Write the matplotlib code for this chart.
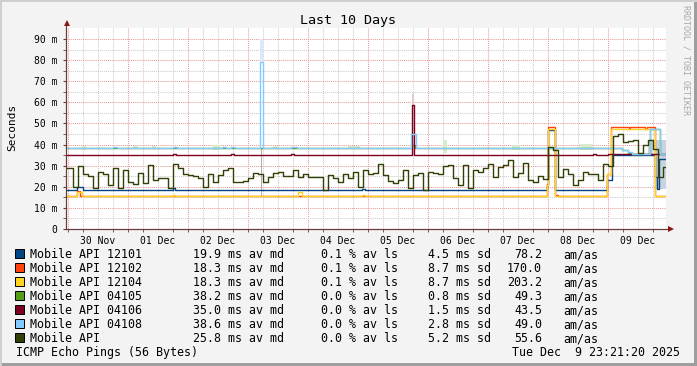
import numpy as np
import matplotlib
matplotlib.use('Agg')
import matplotlib.pyplot as plt
from matplotlib.lines import Line2D
from matplotlib.patches import Rectangle

# ---- data (time in days since 30 Nov 00:00, values in ms) ----
T0, T1 = -0.028, 9.972
day_labels = ["30 Nov", "01 Dec", "02 Dec", "03 Dec", "04 Dec",
              "05 Dec", "06 Dec", "07 Dec", "08 Dec", "09 Dec"]

names = ["Mobile API 12101", "Mobile API 12102", "Mobile API 12104", "Mobile API 04105",
         "Mobile API 04106", "Mobile API 04108", "Mobile API"]
colors = ["#004586", "#ff420e", "#ffd320", "#579d1c", "#7e0021", "#83caff", "#314004"]
med = ["19.9", "18.3", "18.3", "38.2", "35.0", "38.6", "25.8"]
loss = ["0.1", "0.1", "0.1", "0.0", "0.0", "0.0", "0.0"]
sdev = ["4.5", "8.7", "8.7", "0.8", "1.5", "2.8", "5.2"]
amas = ["78.2", "170.0", "203.2", "49.3", "43.5", "49.0", "55.6"]

# step series given as change points
t_12101 = [T0, 0.15, 0.25, 1.75, 1.79, 4.90, 4.96, 7.983, 8.011, 8.122, 8.983, 9.066, 9.79, 9.82, 9.86]
v_12101 = [18.6, 20.0, 18.6, 19.2, 18.6, 19.0, 18.6, 21.0, 47.0, 18.6, 23.0, 35.1, 24.5, 19.0, 33.0]

t_12102 = [T0, 0.15, 0.20, 7.983, 8.011, 8.122, 8.18, 8.983, 9.05, 9.35, 9.38, 9.62, 9.66, 9.79]
v_12102 = [15.5, 17.8, 15.5, 21.4, 48.2, 16.2, 15.5, 26.0, 48.2, 47.6, 48.2, 47.6, 48.2, 15.5]

t_12104 = [T0, 0.16, 0.24, 1.75, 1.79, 3.84, 3.90, 4.90, 4.96, 7.983, 8.011, 8.122, 8.983, 9.05, 9.79]
v_12104 = [15.5, 17.3, 15.5, 16.2, 15.5, 17.3, 15.5, 16.2, 15.5, 21.0, 47.6, 15.5, 26.0, 47.6, 15.5]

t_04105 = [T0, 5.74, 5.79, 9.233, 9.344, 9.40, 9.705, 9.872]
v_04105 = [38.3, 39.9, 38.3, 37.3, 36.2, 35.5, 47.3, 35.4]

t_04106 = [T0, 1.75, 1.80, 2.73, 2.78, 3.73, 3.78, 5.733, 5.775, 8.76, 8.80, 9.0]
v_04106 = [35.1, 35.5, 35.1, 35.6, 35.1, 35.6, 35.1, 58.5, 35.1, 35.6, 35.1, 35.4]

t_04108 = [T0, 0.75, 0.82, 1.75, 1.82, 2.57, 2.64, 2.73, 2.79, 3.21, 3.25, 3.73, 3.82,
           5.73, 5.80, 9.233, 9.344, 9.40, 9.705, 9.872]
v_04108 = [38.5, 39.0, 38.5, 39.0, 38.5, 39.0, 38.5, 39.0, 38.5, 79.3, 38.5, 39.0, 38.5,
           45.1, 38.5, 37.5, 36.4, 35.7, 47.5, 35.6]

# Mobile API median, one value per 2 hours
mobile = [28.7, 20.0, 30.0, 26.0, 25.0, 19.2, 27.0, 26.0, 21.0, 28.7,
          19.2, 28.0, 22.4, 21.5, 26.3, 21.6, 30.5, 23.2, 24.0, 24.0,
          19.2, 31.0, 29.0, 26.0, 25.6, 25.0, 24.0, 20.0, 26.0, 22.4,
          25.6, 27.9, 29.0, 22.4, 22.4, 22.5, 24.0, 26.3, 26.0, 22.4,
          24.5, 26.3, 26.8, 25.0, 25.0, 27.9, 24.5, 26.0, 24.8, 24.5,
          24.8, 18.4, 25.6, 24.0, 22.4, 26.0, 24.0, 27.1, 20.0, 27.9,
          26.0, 26.5, 31.0, 25.6, 22.9, 22.0, 23.0, 28.0, 19.5, 25.6,
          26.5, 18.4, 27.1, 26.3, 26.0, 30.0, 30.5, 24.0, 21.0, 30.3,
          19.2, 27.9, 27.0, 28.7, 31.0, 24.5, 29.5, 30.3, 32.7, 24.8,
          26.5, 31.1, 23.2, 22.4, 25.0, 23.5, 39.0, 37.5, 24.5, 28.5,
          26.0, 21.0, 23.0, 27.0, 26.0, 26.0, 23.0, 30.9, 30.0, 44.0,
          45.0, 41.0, 41.5, 42.0, 36.0, 40.0, 42.0, 38.0, 24.5, 29.5]
step_hours = 2

# smoke patches: start, end, low, high
smoke_green_t0 = [0.24, 1.09, 1.40, 2.43, 3.43, 4.67, 6.26, 7.40, 8.54]
smoke_green_t1 = [0.31, 1.18, 1.48, 2.54, 3.51, 4.87, 6.32, 7.54, 8.76]
smoke_green_lo = [37.5, 37.8, 37.8, 37.6, 37.8, 37.8, 36.0, 37.6, 37.2]
smoke_green_hi = [39.5, 39.2, 39.3, 39.6, 39.3, 39.4, 42.0, 39.6, 40.2]

smoke_other_t0 = [3.21, 3.215, 5.735, 9.68, 9.81]
smoke_other_t1 = [3.25, 3.245, 5.775, 9.76, 9.97]
smoke_other_lo = [79.3, 15.8, 58.5, 35.0, 19.0]
smoke_other_hi = [90.0, 38.5, 64.0, 42.0, 42.0]
smoke_other_c = ["#d8ebfa", "#b8ae9e", "#e8c8d0", "#d0d4dc", "#c8d3e0"]

# ---- figure ----
W, H = 697, 366
def fx(px):
    return px / W
def fy(py):
    return 1 - py / H

mono = 'DejaVu Sans Mono'
fig = plt.figure(figsize=(W / 100, H / 100), dpi=100)
fig.patch.set_facecolor('#f3f3f3')
ax = fig.add_axes([fx(66), fy(229), 600 / W, 201 / H])
ax.set_facecolor('white')
ax.set_xlim(T0, T1)
ax.set_ylim(0, 95.2)

# grid
for d in np.arange(0, 10, 0.25):
    major = float(d).is_integer()
    ax.axvline(d, color='#e89a9a' if major else '#cccccc', lw=0.75,
               ls=(0, (1, 1)), zorder=0)
for v in range(5, 95, 5):
    ax.axhline(v, color='#e89a9a' if v % 10 == 0 else '#cccccc', lw=0.75,
               ls=(0, (1, 1)), zorder=0)

# smoke
ax.bar(smoke_green_t0, np.subtract(smoke_green_hi, smoke_green_lo),
       width=np.subtract(smoke_green_t1, smoke_green_t0), bottom=smoke_green_lo,
       align='edge', color='#d8ebcc', lw=0, zorder=1)
ax.bar(smoke_other_t0, np.subtract(smoke_other_hi, smoke_other_lo),
       width=np.subtract(smoke_other_t1, smoke_other_t0), bottom=smoke_other_lo,
       align='edge', color=smoke_other_c, lw=0, zorder=1)

def stairs(t, v, c):
    t = list(t) + [T1]
    v = list(v) + [v[-1]]
    ax.step(t, v, where='post', color=c, lw=1.0, zorder=2)

series = [(t_12101, v_12101), (t_12102, v_12102), (t_12104, v_12104),
          (t_04105, v_04105), (t_04106, v_04106), (t_04108, v_04108)]
for (t, v), c in zip(series, colors[:6]):
    stairs(t, v, c)

t_mobile = np.arange(len(mobile)) * step_hours / 24.0
t_mobile[0] = T0
stairs(t_mobile, mobile, colors[6])

# axes and ticks
for s in ['top', 'right']:
    ax.spines[s].set_visible(False)
for s in ['left', 'bottom']:
    ax.spines[s].set_color('#6a3a3a')
    ax.spines[s].set_linewidth(0.8)
ax.set_xticks(np.arange(10) + 0.5)
ax.set_xticklabels(day_labels, fontsize=7, family=mono)
ax.set_xticks(np.arange(0, 10, 0.25), minor=True)
ax.set_yticks(range(0, 91, 10))
ax.set_yticklabels(["0"] + [f"{v} m" for v in range(10, 91, 10)], fontsize=7, family=mono)
ax.set_yticks(range(5, 95, 10), minor=True)
ax.tick_params(axis='x', which='major', length=0, pad=5)
ax.tick_params(axis='y', which='major', length=2, pad=4, color='#6a3a3a')
ax.tick_params(which='minor', length=2, color='#6a3a3a')

# arrows extending axes
fig.add_artist(Line2D([fx(66), fx(671)], [fy(229), fy(229)], color='#6a3a3a', lw=0.8))
fig.add_artist(Line2D([fx(66), fx(66)], [fy(229), fy(23)], color='#6a3a3a', lw=0.8))
fig.add_artist(Line2D([fx(671)], [fy(229)], marker='>', ms=4, color='#8b1515', mew=0))
fig.add_artist(Line2D([fx(66.5)], [fy(23)], marker='^', ms=4, color='#8b1515', mew=0))

# titles
fig.text(fx(348), fy(24), "Last 10 Days", ha='center', va='baseline', fontsize=9.6, family=mono)
fig.text(fx(12), fy(127), "Seconds", ha='center', va='center', rotation=90, fontsize=8, family=mono)
fig.text(fx(686), fy(60), "RRDTOOL / TOBI OETIKER", ha='center', va='center', rotation=270,
         fontsize=6, family=mono, color='#a8a8a8')

# legend
for i in range(len(names)):
    yb = 258 + 14 * i
    fig.add_artist(Rectangle((fx(15), fy(yb)), 9 / W, 9 / H, facecolor=colors[i],
                             edgecolor='black', lw=0.7))
    fig.text(fx(30), fy(yb), names[i], va='baseline', fontsize=8.4, family=mono)
    fig.text(fx(193), fy(yb), f"{med[i]} ms av md", va='baseline', fontsize=8.4, family=mono)
    fig.text(fx(321), fy(yb), f"{loss[i]} % av ls", va='baseline', fontsize=8.4, family=mono)
    fig.text(fx(428), fy(yb), f"{sdev[i]} ms sd", va='baseline', fontsize=8.4, family=mono)
    fig.text(fx(542), fy(yb), amas[i], ha='right', va='baseline', fontsize=8.4, family=mono)
    fig.text(fx(563), fy(yb), "am/as", va='baseline', fontsize=8.4, family=mono)
fig.text(fx(16), fy(356), "ICMP Echo Pings (56 Bytes)", va='baseline', fontsize=8.4, family=mono)
fig.text(fx(680), fy(356), "Tue Dec  9 23:21:20 2025", ha='right', va='baseline',
         fontsize=8.4, family=mono)

# shaded frame
fig.add_artist(Rectangle((0, 0), 1, 3 / H, facecolor='#9e9e9e', lw=0))
fig.add_artist(Rectangle((1 - 3 / W, 0), 3 / W, 1, facecolor='#9e9e9e', lw=0))
fig.add_artist(Rectangle((0, 1 - 2 / H), 1, 2 / H, facecolor='#cfcfcf', lw=0))
fig.add_artist(Rectangle((0, 0), 2 / W, 1, facecolor='#cfcfcf', lw=0))

fig.savefig('out.png', dpi=100, facecolor=fig.get_facecolor())
plt.close(fig)
